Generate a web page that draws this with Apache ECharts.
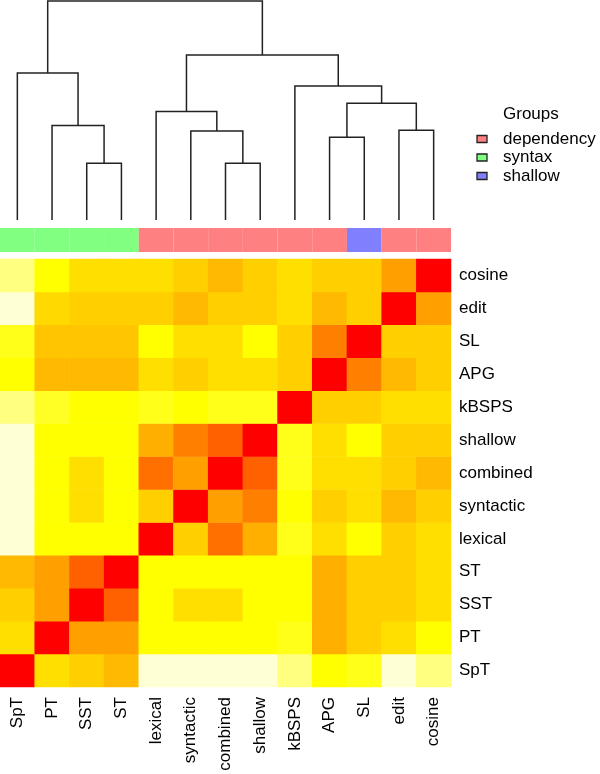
<!DOCTYPE html>
<html>
<head>
<meta charset="utf-8">
<script src="https://cdn.jsdelivr.net/npm/echarts@6/dist/echarts.min.js"></script>
<style>
html,body{margin:0;padding:0;background:#fff;}
#chart{width:600px;height:774px;}
</style>
</head>
<body>
<div id="chart"></div>
<script>
// Leaf order (columns left->right, rows bottom->top)
const labels = ['SpT','PT','SST','ST','lexical','syntactic','combined','shallow','kBSPS','APG','SL','edit','cosine'];
// Group of each leaf
const groups = ['syntax','syntax','syntax','syntax','dependency','dependency','dependency','dependency','dependency','dependency','shallow','dependency','dependency'];
const groupNames = ['dependency','syntax','shallow'];
const groupColors = ['#FF8080','#80FF80','#8080FF'];

// Similarity matrix: similarity[row][col], row index follows labels (SpT = bottom row)
const rowSpT       = [1.00,0.30,0.35,0.42,0.00,0.00,0.00,0.00,0.10,0.20,0.18,0.00,0.10];
const rowPT        = [0.30,1.00,0.50,0.50,0.20,0.20,0.20,0.20,0.18,0.45,0.35,0.30,0.20];
const rowSST       = [0.35,0.50,1.00,0.70,0.20,0.30,0.30,0.20,0.20,0.45,0.35,0.35,0.30];
const rowST        = [0.42,0.50,0.70,1.00,0.20,0.20,0.20,0.20,0.20,0.45,0.35,0.35,0.30];
const rowLexical   = [0.00,0.20,0.20,0.20,1.00,0.35,0.65,0.45,0.18,0.30,0.20,0.35,0.30];
const rowSyntactic = [0.00,0.20,0.30,0.20,0.35,1.00,0.50,0.60,0.20,0.35,0.30,0.42,0.35];
const rowCombined  = [0.00,0.20,0.30,0.20,0.65,0.50,1.00,0.70,0.18,0.30,0.30,0.35,0.42];
const rowShallow   = [0.00,0.20,0.20,0.20,0.45,0.60,0.70,1.00,0.18,0.30,0.20,0.35,0.35];
const rowKBSPS     = [0.10,0.17,0.20,0.20,0.18,0.20,0.18,0.18,1.00,0.35,0.35,0.30,0.30];
const rowAPG       = [0.20,0.42,0.42,0.42,0.30,0.35,0.30,0.30,0.35,1.00,0.60,0.42,0.35];
const rowSL        = [0.18,0.38,0.38,0.38,0.20,0.30,0.30,0.20,0.35,0.60,1.00,0.35,0.35];
const rowEdit      = [0.00,0.32,0.35,0.35,0.35,0.42,0.35,0.35,0.30,0.42,0.35,1.00,0.50];
const rowCosine    = [0.10,0.20,0.30,0.30,0.30,0.35,0.42,0.35,0.30,0.35,0.35,0.50,1.00];
const similarity = [rowSpT,rowPT,rowSST,rowST,rowLexical,rowSyntactic,rowCombined,rowShallow,rowKBSPS,rowAPG,rowSL,rowEdit,rowCosine];

// Dendrogram merges (hclust style): negative = leaf (-(index+1)), positive = earlier merge number
const mergeA = [-3, -2, -1, -7, -6, -5, -10, -12, 7, -9, 6, 3];
const mergeB = [-4,  1,  2, -8,  4,  5, -11, -13, 8,  9, 10, 11];
const mergeHeight = [0.259, 0.431, 0.671, 0.259, 0.406, 0.495, 0.378, 0.410, 0.533, 0.612, 0.753, 1.000];

const heatColors = ['#FFFFD5','#FFFF80','#FFFF00','#FFDF00','#FFBF00','#FF9F00','#FF8000','#FF6000','#FF4000','#FF2000','#FF0000'];
const FONT = 'Liberation Sans, Arial, Helvetica, sans-serif';

// build heatmap data
const heatData = [];
similarity.forEach((row, r) => row.forEach((v, c) => heatData.push([c, r, v])));

// build dendrogram segments
const nodes = [];
const dendroData = [];
function nodeInfo(id) {
  if (id < 0) return {x: -id - 1, h: 0};
  return nodes[id - 1];
}
for (let k = 0; k < mergeA.length; k++) {
  const a = nodeInfo(mergeA[k]);
  const b = nodeInfo(mergeB[k]);
  const h = mergeHeight[k];
  nodes.push({x: (a.x + b.x) / 2, h: h});
  dendroData.push([a.x, a.h, b.x, b.h, h]);
}

const barData = groups.map((g, i) => ({value: [i, 0.5], itemStyle: {color: groupColors[groupNames.indexOf(g)]}}));

const chart = echarts.init(document.getElementById('chart'), null, {renderer: 'canvas'});

const legendGraphics = [{
  type: 'text', x: 503, y: 114,
  style: {text: 'Groups', fontSize: 17, fontFamily: FONT, fill: '#000', verticalAlign: 'middle', align: 'left'}
}];
const legendY = [139, 157.5, 176];
groupNames.forEach((g, i) => {
  legendGraphics.push({
    type: 'rect', shape: {x: 477, y: legendY[i] - 3.5, width: 10, height: 7},
    style: {fill: groupColors[i], stroke: '#222', lineWidth: 1.3}
  });
  legendGraphics.push({
    type: 'text', x: 503, y: legendY[i],
    style: {text: g, fontSize: 17, fontFamily: FONT, fill: '#000', verticalAlign: 'middle', align: 'left'}
  });
});

const option = {
  backgroundColor: '#fff',
  animation: false,
  grid: [
    {left: 0, top: 259, width: 451, height: 428},
    {left: 0, top: 1, width: 451, height: 219},
    {left: 0, top: 228, width: 451, height: 24}
  ],
  xAxis: [
    {
      type: 'category', gridIndex: 0, data: labels, position: 'bottom',
      axisLine: {show: false}, axisTick: {show: false}, splitLine: {show: false},
      axisLabel: {rotate: 90, margin: 10, fontSize: 17, fontFamily: FONT, color: '#000', interval: 0}
    },
    {type: 'value', gridIndex: 1, min: -0.5, max: 12.5, show: false},
    {type: 'value', gridIndex: 2, min: -0.5, max: 12.5, show: false}
  ],
  yAxis: [
    {
      type: 'category', gridIndex: 0, data: labels, position: 'right',
      axisLine: {show: false}, axisTick: {show: false}, splitLine: {show: false},
      axisLabel: {margin: 8, fontSize: 17, fontFamily: FONT, color: '#000', interval: 0, align: 'left'}
    },
    {type: 'value', gridIndex: 1, min: 0, max: 1, show: false},
    {type: 'value', gridIndex: 2, min: 0, max: 1, show: false}
  ],
  visualMap: {
    type: 'continuous', show: false, min: 0, max: 1, seriesIndex: 0,
    inRange: {color: heatColors}
  },
  series: [
    {
      type: 'heatmap', xAxisIndex: 0, yAxisIndex: 0, data: heatData,
      itemStyle: {borderWidth: 0}, emphasis: {disabled: true}, progressive: 0
    },
    {
      type: 'custom', xAxisIndex: 1, yAxisIndex: 1, data: dendroData,
      encode: {x: [0, 2], y: [1, 3, 4]}, silent: true,
      renderItem: function (params, api) {
        const p1 = api.coord([api.value(0), api.value(1)]);
        const p2 = api.coord([api.value(0), api.value(4)]);
        const p3 = api.coord([api.value(2), api.value(4)]);
        const p4 = api.coord([api.value(2), api.value(3)]);
        return {
          type: 'polyline',
          shape: {points: [p1, p2, p3, p4]},
          style: {stroke: '#222', lineWidth: 1.5, fill: null}
        };
      }
    },
    {
      type: 'custom', xAxisIndex: 2, yAxisIndex: 2, data: barData,
      encode: {x: 0, y: 1}, silent: true,
      renderItem: function (params, api) {
        const s = api.coord([api.value(0) - 0.5, 1]);
        const e = api.coord([api.value(0) + 0.5, 0]);
        return {
          type: 'rect',
          shape: {x: s[0], y: s[1], width: e[0] - s[0], height: e[1] - s[1]},
          style: {fill: api.visual('color')}
        };
      }
    }
  ],
  graphic: legendGraphics
};
chart.setOption(option);
</script>
</body>
</html>
